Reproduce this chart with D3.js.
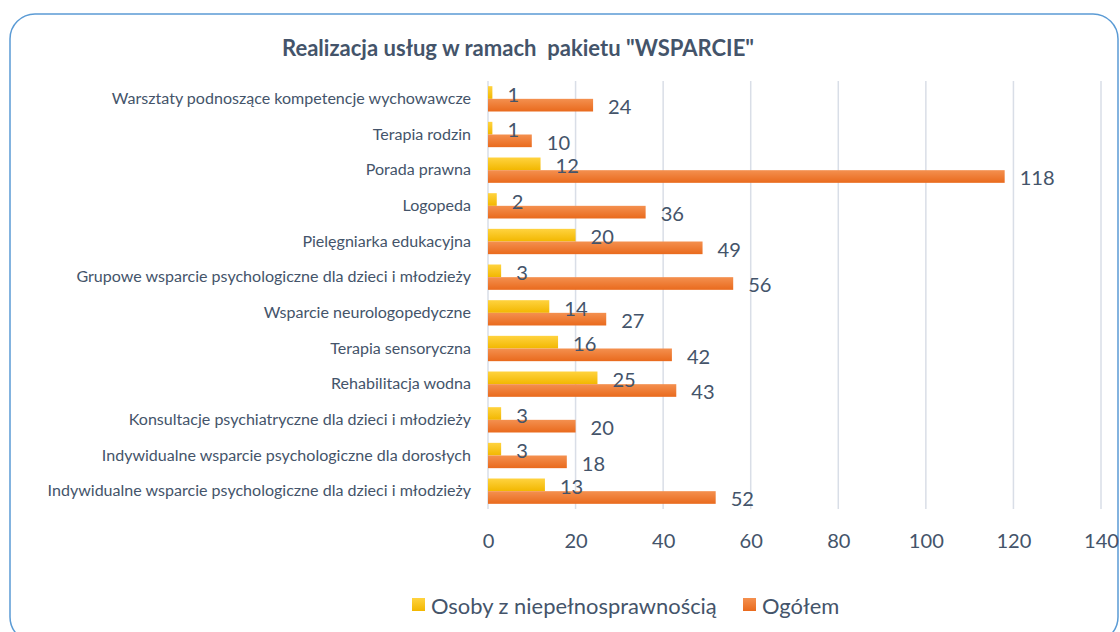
<!DOCTYPE html>
<html>
<head>
<meta charset="utf-8">
<script src="https://cdn.jsdelivr.net/npm/d3@7"></script>
<style>
  body { margin: 0; background: #fff; }
  svg { display: block; }
  text { font-family: Lato, "Open Sans", sans-serif; fill: #44546a; }
</style>
</head>
<body>
<svg width="1120" height="632"></svg>
<script>
const categories = [
    "Warsztaty podnoszące kompetencje wychowawcze",
    "Terapia rodzin",
    "Porada prawna",
    "Logopeda",
    "Pielęgniarka edukacyjna",
    "Grupowe wsparcie psychologiczne dla dzieci i młodzieży",
    "Wsparcie neurologopedyczne",
    "Terapia sensoryczna",
    "Rehabilitacja wodna",
    "Konsultacje psychiatryczne dla dzieci i młodzieży",
    "Indywidualne wsparcie psychologiczne dla dorosłych",
    "Indywidualne wsparcie psychologiczne dla dzieci i młodzieży"
];
const disabled = [1, 1, 12, 2, 20, 3, 14, 16, 25, 3, 3, 13];
const total = [24, 10, 118, 36, 49, 56, 27, 42, 43, 20, 18, 52];
const seriesNames = ["Osoby z niepełnosprawnością", "Ogółem"];
const xTicks = [0, 20, 40, 60, 80, 100, 120, 140];

const svg = d3.select("svg");

// font size that makes a sample string a given width
const fitSize = (sample, width, weight) => {
    const t = svg.append("text").attr("font-size", 20)
        .attr("font-weight", weight || "normal").text(sample);
    const w = t.node().getComputedTextLength();
    t.remove();
    return 20 * width / w;
};
const numSize = fitSize("118", 35);
const legSize = fitSize(seriesNames[0], 286);

// frame
svg.append("rect")
    .attr("x", 10).attr("y", 14)
    .attr("width", 1108).attr("height", 628)
    .attr("rx", 25).attr("ry", 25)
    .attr("fill", "none")
    .attr("stroke", "#5b9bd5")
    .attr("stroke-width", 1.5);

const defs = svg.append("defs");
const grad = (id, c1, c2) => {
    const g = defs.append("linearGradient").attr("id", id)
        .attr("x1", 0).attr("y1", 0).attr("x2", 0).attr("y2", 1);
    g.append("stop").attr("offset", "0%").attr("stop-color", c1);
    g.append("stop").attr("offset", "100%").attr("stop-color", c2);
};
grad("gYellow", "#ffd33f", "#f2b700");
grad("gOrange", "#f4904f", "#e96a1d");
const fills = ["url(#gYellow)", "url(#gOrange)"];

const x = d3.scaleLinear().domain([0, 140]).range([488, 1101]);
const y = d3.scaleBand().domain(categories).range([81, 509])
    .paddingInner(0.29).paddingOuter(0.145);
const sub = d3.scaleBand().domain([0, 1]).range([0, y.bandwidth()]);

// title
svg.append("text")
    .attr("x", 518).attr("y", 56)
    .attr("text-anchor", "middle")
    .attr("font-size", fitSize("Realizacja usług w ramach  pakietu \"WSPARCIE\"", 467, "bold"))
    .attr("font-weight", "bold")
    .style("white-space", "pre")
    .text("Realizacja usług w ramach  pakietu \"WSPARCIE\"");

// grid
svg.append("g").selectAll("line")
    .data(xTicks)
    .join("line")
    .attr("x1", d => x(d)).attr("x2", d => x(d))
    .attr("y1", 81).attr("y2", 509)
    .attr("stroke", "#d9dee7").attr("stroke-width", 1.5);

// x axis labels
const xAxis = svg.append("g")
    .attr("transform", "translate(0,509)")
    .call(d3.axisBottom(x).tickValues(xTicks).tickSize(0).tickPadding(25));
xAxis.select(".domain").remove();
xAxis.selectAll("text")
    .attr("font-size", numSize)
    .attr("font-family", "Lato, sans-serif")
    .attr("fill", "#44546a");

// category labels
const yAxis = svg.append("g")
    .attr("transform", "translate(471,0)")
    .call(d3.axisLeft(y).tickSize(0).tickPadding(0));
yAxis.select(".domain").remove();
yAxis.selectAll("text")
    .attr("font-size", 15)
    .attr("font-family", "Lato, sans-serif")
    .attr("fill", "#44546a");

// scale category font to the reference width of the longest label
let maxW = 0;
yAxis.selectAll("text").each(function () { maxW = Math.max(maxW, this.getComputedTextLength()); });
yAxis.selectAll("text").attr("font-size", 15 * 424 / maxW);

// bars
const rows = categories.map((c, i) => ({ cat: c, vals: [disabled[i], total[i]] }));
const group = svg.append("g").selectAll("g")
    .data(rows)
    .join("g")
    .attr("transform", d => `translate(0,${y(d.cat)})`);

group.selectAll("rect")
    .data(d => d.vals.map((v, k) => ({ v, k })))
    .join("rect")
    .attr("x", x(0))
    .attr("y", d => sub(d.k))
    .attr("width", d => x(d.v) - x(0))
    .attr("height", sub.bandwidth())
    .attr("fill", d => fills[d.k]);

group.selectAll("text.val")
    .data(d => d.vals.map((v, k) => ({ v, k })))
    .join("text")
    .attr("class", "val")
    .attr("x", d => x(d.v) + 15)
    .attr("y", d => sub(d.k) + sub.bandwidth() / 2 + 1)
    .attr("dominant-baseline", "central")
    .attr("font-size", numSize)
    .text(d => d.v);

// legend
const legend = svg.append("g");
const lx = [412, 743];
seriesNames.forEach((name, k) => {
    legend.append("rect")
        .attr("x", lx[k]).attr("y", 598)
        .attr("width", 13).attr("height", 13)
        .attr("fill", fills[k]);
    legend.append("text")
        .attr("x", lx[k] + 19).attr("y", 605)
        .attr("dominant-baseline", "central")
        .attr("font-size", legSize)
        .text(name);
});
</script>
</body>
</html>
